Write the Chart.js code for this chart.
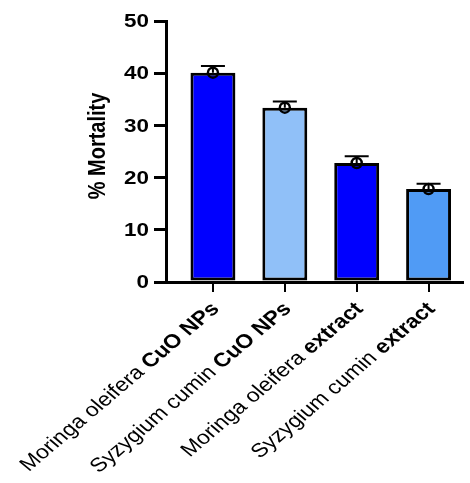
<!DOCTYPE html>
<html>
<head>
<meta charset="utf-8">
<script src="https://cdn.jsdelivr.net/npm/chart.js@4"></script>
<style>
  html, body { margin: 0; padding: 0; background: #fff; }
  #wrap { width: 470px; height: 483px; }
</style>
</head>
<body>
<div id="wrap"><canvas id="chart"></canvas></div>
<script>
const NAMES = ["Moringa oleifera ", "Syzygium cumin ", "Moringa oleifera ", "Syzygium cumin "];
const TYPES = ["CuO NPs", "CuO NPs", "extract", "extract"];
const MORTALITY = [40.1, 33.4, 22.8, 17.8];
const ERRORS = [1.3, 1.2, 1.3, 1.0];
const Y_TICKS = [0, 10, 20, 30, 40, 50];
const Y_TITLE = "% Mortality";

const COLORS = ["#0000ff", "#90c0f8", "#0000ff", "#509bf5"];
const FONT = "'Liberation Sans', Arial, sans-serif";
const STRETCH = 1.18; // the reference text is a bit wide

const points = MORTALITY.map((v, i) => ({ x: i, y: v }));

// error caps on top of each bar
const errorBars = {
  id: "errorBars",
  afterDatasetsDraw(chart) {
    const { ctx, scales: { x, y } } = chart;
    ctx.save();
    ctx.strokeStyle = "#000";
    ctx.lineWidth = 2;
    MORTALITY.forEach((v, i) => {
      const px = x.getPixelForValue(i);
      const top = y.getPixelForValue(v + ERRORS[i]);
      const base = y.getPixelForValue(v);
      ctx.beginPath();
      ctx.moveTo(px, base);
      ctx.lineTo(px, top);
      ctx.moveTo(px - 12, top);
      ctx.lineTo(px + 12, top);
      ctx.stroke();
    });
    ctx.restore();
  }
};

// axis texts, drawn by hand so they can be stretched and mix bold/regular
const axisText = {
  id: "axisText",
  afterDraw(chart) {
    const { ctx, scales: { x, y }, chartArea } = chart;
    ctx.save();
    ctx.fillStyle = "#000";

    // category labels
    NAMES.forEach((name, i) => {
      const px = x.getPixelForValue(i);
      ctx.save();
      ctx.translate(px + 3, chartArea.bottom + 24);
      ctx.scale(STRETCH, 1);
      ctx.rotate(-Math.PI / 4);
      ctx.textAlign = "right";
      ctx.textBaseline = "middle";
      ctx.font = "bold 19.5px " + FONT;
      const w = ctx.measureText(TYPES[i]).width;
      ctx.fillText(TYPES[i], 0, 0);
      ctx.font = "19.5px " + FONT;
      ctx.fillText(name, -w, 0);
      ctx.restore();
    });

    // y tick labels
    Y_TICKS.forEach(v => {
      ctx.save();
      ctx.translate(chartArea.left - 17, y.getPixelForValue(v) + 1);
      ctx.scale(STRETCH, 1);
      ctx.textAlign = "right";
      ctx.textBaseline = "middle";
      ctx.font = "bold 19px " + FONT;
      ctx.fillText(String(v), 0, 0);
      ctx.restore();
    });

    // y title
    ctx.save();
    ctx.translate(98, 146);
    ctx.rotate(-Math.PI / 2);
    ctx.scale(1, STRETCH);
    ctx.textAlign = "center";
    ctx.textBaseline = "middle";
    ctx.font = "bold 20px " + FONT;
    ctx.fillText(Y_TITLE, 0, 0);
    ctx.restore();

    ctx.restore();
  }
};

new Chart(document.getElementById("chart"), {
  type: "bar",
  data: {
    datasets: [
      {
        type: "line",
        data: points,
        showLine: false,
        pointRadius: 5,
        pointBorderWidth: 2.5,
        pointBorderColor: "#000",
        pointBackgroundColor: "rgba(0,0,0,0)"
      },
      {
        data: points,
        backgroundColor: COLORS,
        borderColor: "#000",
        borderWidth: 3,
        borderSkipped: false,
        barPercentage: 0.625,
        categoryPercentage: 1
      }
    ]
  },
  options: {
    responsive: true,
    maintainAspectRatio: false,
    animation: false,
    layout: { padding: { top: 21, left: 0, right: 0, bottom: 0 } },
    plugins: { legend: { display: false }, tooltip: { enabled: false } },
    scales: {
      x: {
        type: "linear",
        offset: false,
        min: -0.653,
        max: 3.472,
        afterBuildTicks(scale) {
          scale.ticks = NAMES.map((n, i) => ({ value: i }));
        },
        afterFit(scale) { scale.height = 201; },
        ticks: { display: false },
        grid: { offset: false, drawOnChartArea: false, color: "#000", lineWidth: 2, tickLength: 10 },
        border: { color: "#000", width: 3 }
      },
      y: {
        min: 0,
        max: 50,
        afterBuildTicks(scale) {
          scale.ticks = Y_TICKS.map(v => ({ value: v }));
        },
        afterFit(scale) { scale.width = 166; },
        ticks: { display: false },
        grid: { drawOnChartArea: false, color: "#000", lineWidth: 3, tickLength: 12 },
        border: { color: "#000", width: 3 }
      }
    }
  },
  plugins: [errorBars, axisText]
});
</script>
</body>
</html>
